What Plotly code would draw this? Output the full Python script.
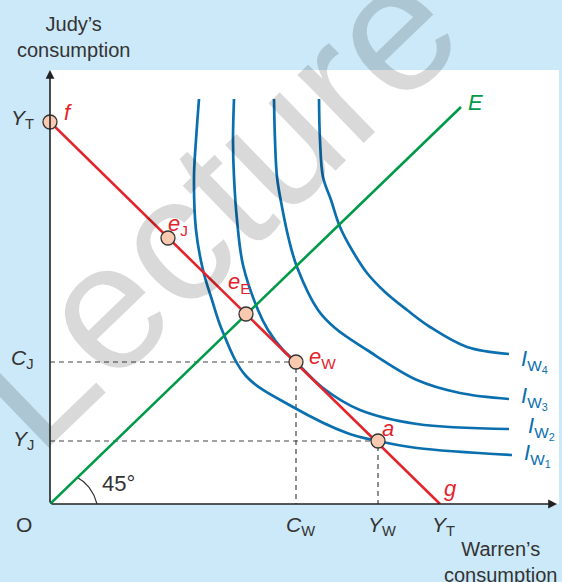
import numpy as np
import plotly.graph_objects as go

# budget line f-g and the 45 degree line
budget_x = [0, 390]
budget_y = [382, 0]
line45_x = [0, 411]
line45_y = [0, 397]

# indifference curves for Warren
iw1_x = [149, 146, 144, 146, 153, 162, 172, 196, 243, 297, 328, 367, 462]
iw1_y = [405, 364, 327, 274, 234, 204, 174, 128, 97, 71, 63, 56, 49]
iw2_x = [184, 183, 184, 187, 193, 208, 218, 233, 246, 273, 310, 367, 459]
iw2_y = [405, 364, 327, 284, 239, 194, 174, 154, 142, 116, 94, 80, 75]
iw3_x = [224, 225, 227, 232, 239, 247, 268, 285, 317, 367, 410, 459]
iw3_y = [405, 364, 327, 297, 264, 237, 194, 176, 154, 124, 111, 105]
iw4_x = [269, 270, 273, 281, 290, 302, 317, 335, 357, 380, 417, 459]
iw4_y = [405, 364, 327, 304, 277, 254, 231, 212, 194, 177, 157, 150]

# named points on the budget line
pt_names = ["f", "e_J", "e_E", "e_W", "a"]
pt_x = [0, 118, 196, 246, 328]
pt_y = [382, 266, 190, 142, 63]

C_W, C_J = 246, 142
Y_W, Y_J = 328, 63
Y_T = 390

XMAX, YMAX = 509, 434

RED = "#e3242b"
BLUE = "#0a6fae"
GREEN = "#009a48"
INK = "#333333"
FONT = "Liberation Sans"

fig = go.Figure()

# dashed guides
for xs, ys in [([0, C_W, C_W], [C_J, C_J, 0]), ([0, Y_W, Y_W], [Y_J, Y_J, 0])]:
    fig.add_trace(go.Scatter(x=xs, y=ys, mode="lines",
                             line=dict(color="#444444", width=1.2, dash="5px,4px")))

# 45 degree arc
th = np.linspace(0, np.pi / 4, 40)
r = 47 - 9 * th / (np.pi / 4)
fig.add_trace(go.Scatter(x=r * np.cos(th), y=r * np.sin(th), mode="lines",
                         line=dict(color=INK, width=1.2)))

for cx, cy in [(iw1_x, iw1_y), (iw2_x, iw2_y), (iw3_x, iw3_y), (iw4_x, iw4_y)]:
    fig.add_trace(go.Scatter(x=cx, y=cy, mode="lines",
                             line=dict(color=BLUE, width=2.7, shape="spline", smoothing=1)))

fig.add_trace(go.Scatter(x=line45_x, y=line45_y, mode="lines", line=dict(color=GREEN, width=2.6)))
fig.add_trace(go.Scatter(x=budget_x, y=budget_y, mode="lines", line=dict(color=RED, width=2.6)))
fig.add_trace(go.Scatter(x=pt_x, y=pt_y, mode="markers", cliponaxis=False,
                         marker=dict(size=14, color="#f9c9b0", line=dict(color=INK, width=1.3))))

anns = []
# watermark
anns.append(dict(x=160 / XMAX, y=300 / YMAX, xref="paper", yref="paper", text="Lecture",
                 xanchor="center", yanchor="middle", textangle=-44, showarrow=False,
                 font=dict(family=FONT, size=180, color="rgba(0,0,0,0.15)")))

# axes with arrows
anns.append(dict(x=507, y=0, ax=0, ay=0, xref="x", yref="y", axref="x", ayref="y", text="",
                 showarrow=True, arrowhead=2, arrowsize=1.1, arrowwidth=1.6, arrowcolor="#222"))
anns.append(dict(x=0, y=YMAX, ax=0, ay=0, xref="x", yref="y", axref="x", ayref="y", text="",
                 showarrow=True, arrowhead=2, arrowsize=1.1, arrowwidth=1.6, arrowcolor="#222"))


def lab(x, y, t, color=INK, size=21, xa="center", ya="middle", align="center"):
    anns.append(dict(x=x / XMAX, y=y / YMAX, xref="paper", yref="paper", text=t,
                     showarrow=False, xanchor=xa, yanchor=ya, align=align,
                     font=dict(family=FONT, size=size, color=color)))


lab(23, 467, "Judy’s<br>consumption", size=20)
lab(450, -58, "Warren’s<br>consumption", size=20)
lab(-14, 385, "<i>Y</i><sub>T</sub>", xa="right")
lab(-14, 145, "<i>C</i><sub>J</sub>", xa="right")
lab(-14, 64, "<i>Y</i><sub>J</sub>", xa="right")
lab(-26, -20, "O")
lab(250, -22, "<i>C</i><sub>W</sub>")
lab(332, -22, "<i>Y</i><sub>W</sub>")
lab(Y_T + 3, -22, "<i>Y</i><sub>T</sub>")
lab(68, 21, "45°", size=22)

lab(12, 392, "<i>f</i>", color=RED, size=22, xa="left")
lab(116, 279, "<i>e</i><sub>J</sub>", color=RED, size=22, xa="left")
lab(176, 221, "<i>e</i><sub>E</sub>", color=RED, size=22, xa="left")
lab(257, 146, "<i>e</i><sub>W</sub>", color=RED, size=22, xa="left")
lab(330, 76, "<i>a</i>", color=RED, size=22, xa="left")
lab(392, 16, "<i>g</i>", color=RED, size=22, xa="left")
lab(416, 402, "<i>E</i>", color=GREEN, size=22, xa="left")

iw_labels = ["<i>I</i><sub>W<sub>4</sub></sub>", "<i>I</i><sub>W<sub>3</sub></sub>",
             "<i>I</i><sub>W<sub>2</sub></sub>", "<i>I</i><sub>W<sub>1</sub></sub>"]
iw_lx = [469, 469, 476, 472]
iw_ly = [143, 106, 76, 49]
for t, x, y in zip(iw_labels, iw_lx, iw_ly):
    lab(x, y, t, color=BLUE, size=22, xa="left")

fig.update_layout(
    width=562, height=582,
    margin=dict(l=50, r=3, t=70, b=78),
    paper_bgcolor="#cbe9f8", plot_bgcolor="white",
    showlegend=False,
    annotations=anns,
    xaxis=dict(range=[0, XMAX], visible=False, fixedrange=True),
    yaxis=dict(range=[0, YMAX], visible=False, fixedrange=True),
)

fig.write_html("out.html", config={"displayModeBar": False},
               post_script="document.body.style.margin='0';")
